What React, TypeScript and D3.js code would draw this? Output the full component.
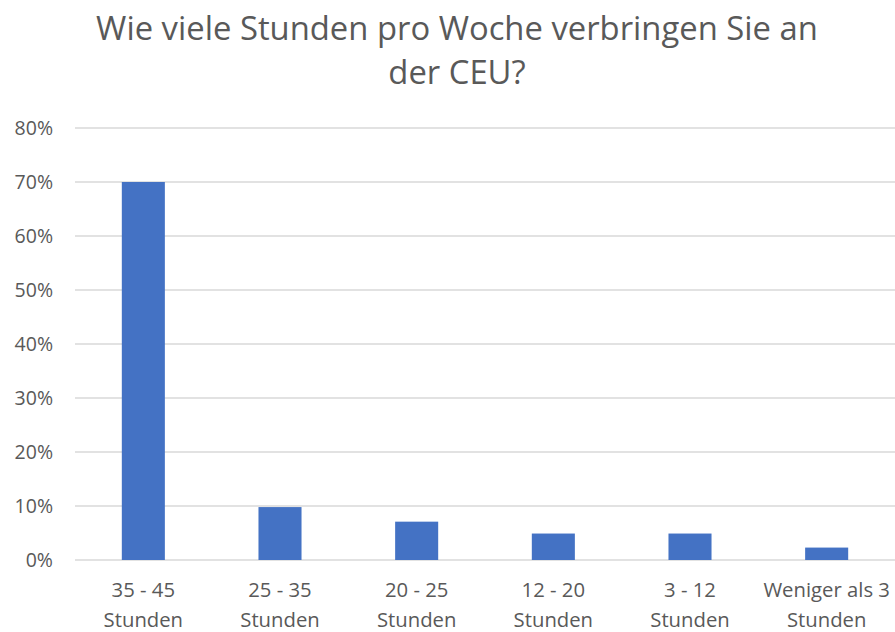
import React from "react";
import * as d3 from "d3";

const categories = [
  ["35 - 45", "Stunden"],
  ["25 - 35", "Stunden"],
  ["20 - 25", "Stunden"],
  ["12 - 20", "Stunden"],
  ["3 - 12", "Stunden"],
  ["Weniger als 3", "Stunden"],
];
const values = [0.70, 0.098, 0.071, 0.049, 0.049, 0.023];
const yTicks = [0, 0.1, 0.2, 0.3, 0.4, 0.5, 0.6, 0.7, 0.8];
const titleLines = ["Wie viele Stunden pro Woche verbringen Sie an", "der CEU?"];

const width = 895;
const height = 632;
const margin = { top: 128, right: 0, bottom: 72, left: 75 };
const font = "'Open Sans', 'Noto Sans', sans-serif";
const textColor = "#595959";

const App = () => {
  const x = d3
    .scaleBand<number>()
    .domain(d3.range(categories.length))
    .range([margin.left, width - margin.right])
    .paddingInner(0.685)
    .paddingOuter(0.3425);

  const y = d3
    .scaleLinear()
    .domain([0, 0.8])
    .range([height - margin.bottom, margin.top]);

  const fmt = d3.format(".0%");

  return (
    <svg
      width={width}
      height={height}
      style={{ position: "absolute", left: 0, top: 0, background: "#fff" }}
      fontFamily={font}
    >
      {titleLines.map((t, i) => (
        <text
          key={t}
          x={457}
          y={40 + i * 44}
          textAnchor="middle"
          fontSize={32.8}
          fill={textColor}
        >
          {t}
        </text>
      ))}
      {yTicks.map(v => (
        <g key={v}>
          <line
            x1={margin.left}
            x2={width - margin.right}
            y1={y(v)}
            y2={y(v)}
            stroke="#d9d9d9"
            strokeWidth={1.3}
          />
          <text
            x={53}
            y={y(v)}
            dy="0.36em"
            textAnchor="end"
            fontSize={19.5}
            fill={textColor}
          >
            {fmt(v)}
          </text>
        </g>
      ))}
      {values.map((v, i) => (
        <rect
          key={i}
          x={x(i)}
          y={y(v)}
          width={x.bandwidth()}
          height={y(0) - y(v)}
          fill="#4472c4"
        />
      ))}
      {categories.map((lines, i) => (
        <text
          key={i}
          x={(x(i) as number) + x.bandwidth() / 2}
          textAnchor="middle"
          fontSize={20.3}
          fill={textColor}
        >
          {lines.map((l, j) => (
            <tspan key={j} x={(x(i) as number) + x.bandwidth() / 2} y={597 + j * 30}>
              {l}
            </tspan>
          ))}
        </text>
      ))}
    </svg>
  );
};

export default App;
